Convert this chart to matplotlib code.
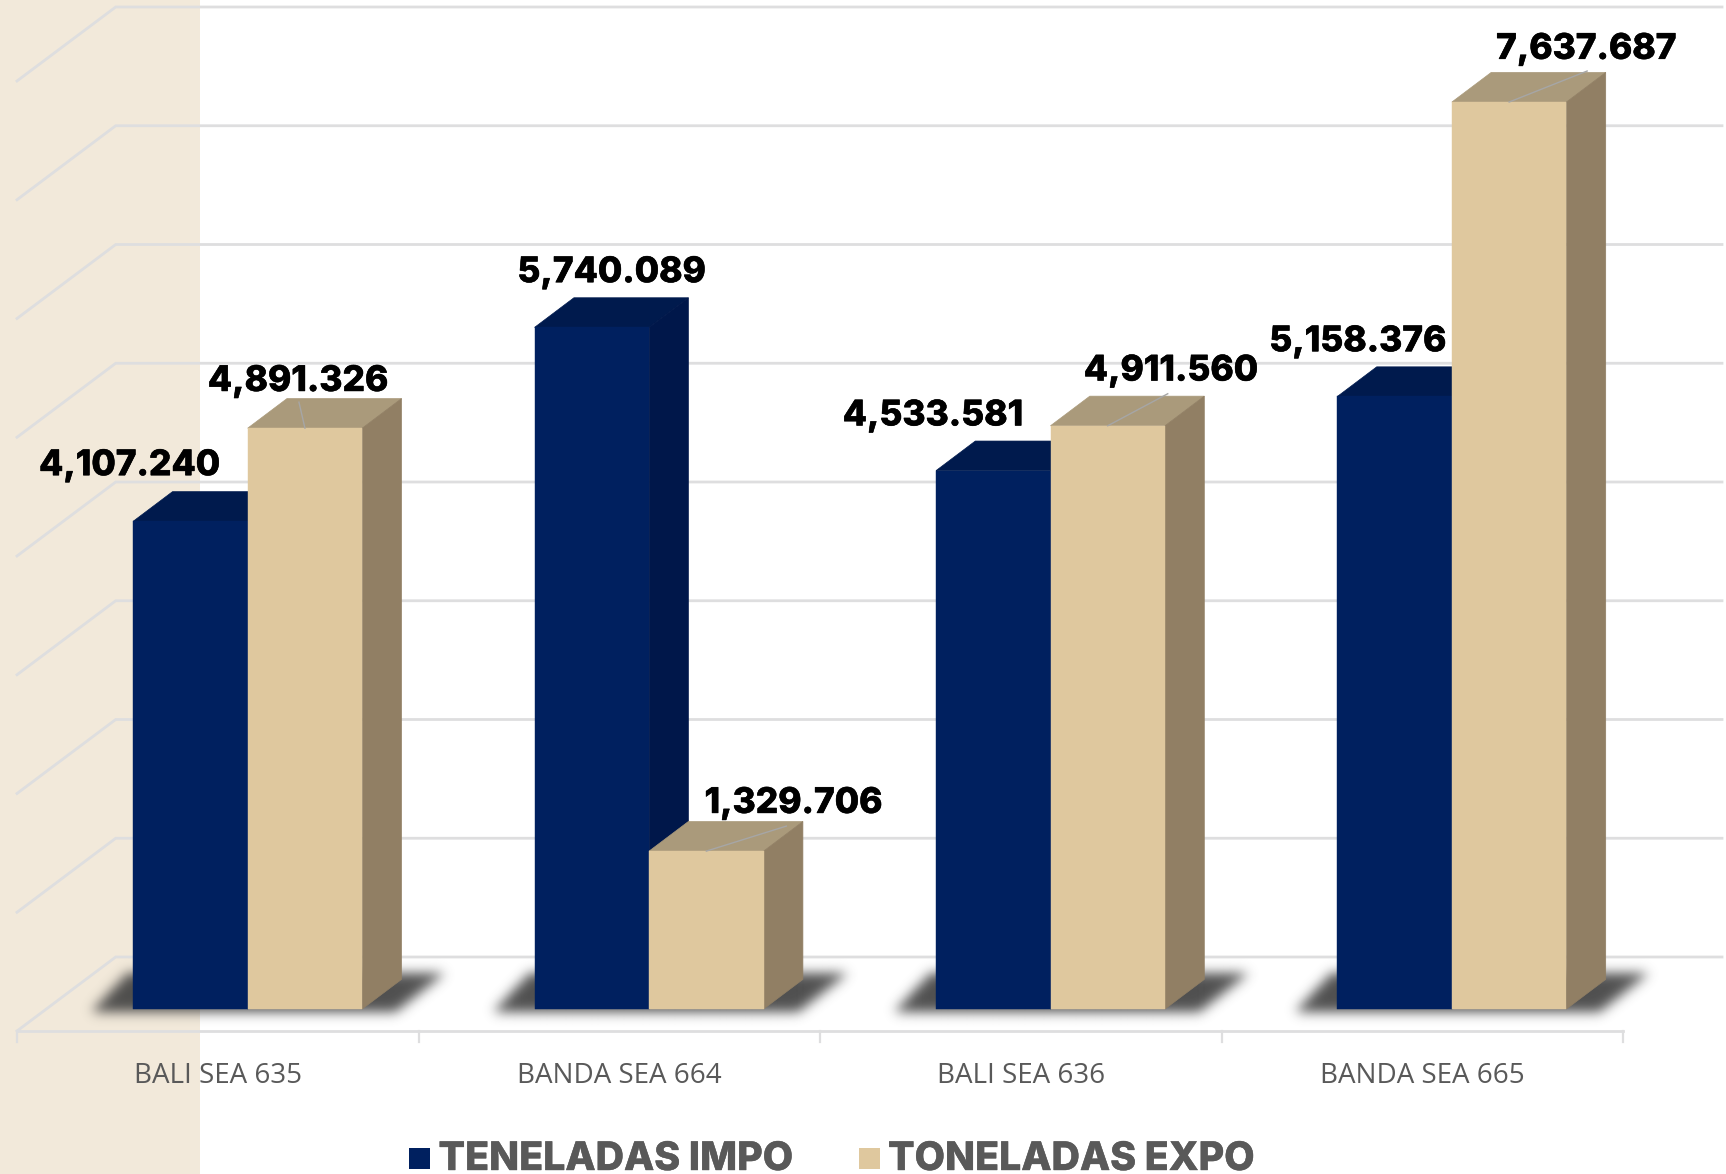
import matplotlib
matplotlib.use("Agg")
import matplotlib.pyplot as plt
import matplotlib.patheffects as pe
from matplotlib.patches import Polygon, Rectangle
from matplotlib.path import Path
import numpy as np

categories = ["BALI SEA 635", "BANDA SEA 664", "BALI SEA 636", "BANDA SEA 665"]
impo = [4107.240, 5740.089, 4533.581, 5158.376]
expo = [4891.326, 1329.706, 4911.560, 7637.687]
series_names = ["TENELADAS IMPO", "TONELADAS EXPO"]
grid_values = list(range(0, 9000, 1000))

W, H = 1726, 1174
PX_X = 401.4      # pixels per category
PX_Y = 0.11875    # pixels per value unit
X0_PX, Y0_PX = 247.7, 1009.0

fig = plt.figure(figsize=(W / 100, H / 100), dpi=100, facecolor="white")
ax = fig.add_axes([0, 0, 1, 1])
xlim = (-X0_PX / PX_X, (W - X0_PX) / PX_X)
ylim = ((Y0_PX - H) / PX_Y, Y0_PX / PX_Y)
ax.set_xlim(*xlim)
ax.set_ylim(*ylim)
ax.axis("off")

def dxp(p): return p / PX_X
def dyp(p): return p / PX_Y
def X(p): return (p - X0_PX) / PX_X
def Y(p): return (Y0_PX - p) / PX_Y

# background band
ax.add_patch(Rectangle((X(0), Y(H)), dxp(200), dyp(H), fc="#F2E9DA", ec="none", zorder=0))

# walls and gridlines
GRID = "#DEDEDF"
back_off, front_off = dyp(52), dyp(-22)
for v in grid_values:
    ax.plot([X(17), X(115.7), X(1722)], [v + front_off, v + back_off, v + back_off],
            color=GRID, lw=2.0, solid_joinstyle="miter", zorder=1)
tick_x = np.arange(len(categories) + 1) - 0.5 - 0.0735
ax.plot([tick_x[0], tick_x[-1]], [front_off, front_off], color=GRID, lw=2.0, zorder=1)
for t in tick_x:
    ax.plot([t, t], [front_off, front_off - dyp(11)], color=GRID, lw=1.6, zorder=1)

bw = 114.5 / PX_X
ddx, ddy = dxp(39.3), dyp(29.6)

# soft floor shadows: polygons rasterised on the pixel grid and blurred
def gaussian_blur(a, sigma):
    r = int(3 * sigma)
    k = np.exp(-0.5 * (np.arange(-r, r + 1) / sigma) ** 2)
    k /= k.sum()
    a = np.apply_along_axis(lambda m: np.convolve(m, k, mode="same"), 0, a)
    return np.apply_along_axis(lambda m: np.convolve(m, k, mode="same"), 1, a)

pad_l, pad_r, pad_t, pad_b = 70, 110, 60, 30
for i in range(len(categories)):
    l, r = i - bw, i + bw
    pts = np.array([(l - dxp(42), -dyp(3)), (r + dxp(34), -dyp(3)),
                    (r + dxp(83), dyp(36)), (l + dxp(-6), dyp(36))])
    nx = int(2 * bw * PX_X) + pad_l + pad_r
    ny = pad_t + pad_b
    xs = np.linspace(l - dxp(pad_l), r + dxp(pad_r), nx)
    ys = np.linspace(dyp(pad_t), -dyp(pad_b), ny)
    gx, gy = np.meshgrid(xs, ys)
    mask = Path(pts).contains_points(np.c_[gx.ravel(), gy.ravel()]).reshape(gy.shape).astype(float)
    alpha = gaussian_blur(mask, 6.0) * 0.92
    rgba = np.zeros(gy.shape + (4,))
    rgba[..., :3] = 0x40 / 255
    rgba[..., 3] = alpha
    ax.imshow(rgba, extent=(xs[0], xs[-1], ys[-1], ys[0]), aspect="auto", zorder=2,
              interpolation="bilinear")
ax.set_xlim(*xlim)
ax.set_ylim(*ylim)

def draw_bars(xs, vals, front, top, side, z):
    xs = np.asarray(xs)
    for x, v in zip(xs, vals):
        l, r = x - bw / 2, x + bw / 2
        ax.add_patch(Polygon([(l, v), (r, v), (r + ddx, v + ddy), (l + ddx, v + ddy)],
                             fc=top, ec=top, lw=0.5, zorder=z))
        ax.add_patch(Polygon([(r, 0), (r + ddx, ddy), (r + ddx, v + ddy), (r, v)],
                             fc=side, ec=side, lw=0.5, zorder=z + 0.1))
    ax.bar(xs, vals, width=bw, color=front, edgecolor=front, linewidth=0.3, zorder=z + 0.2)

xpos = np.arange(len(categories))
NAVY, BEIGE = "#00205F", "#DFC89E"
draw_bars(xpos - bw / 2, impo, NAVY, "#001A4D", "#00174A", 3)
draw_bars(xpos + bw / 2, expo, BEIGE, "#AA9A7B", "#917F64", 4)

# data labels (offset of label centre from the bar's top-front centre, in pixels)
impo_off = [(-61, 55.6), (19.5, 54.7), (-60.5, 54.7), (-37, 54.7)]
expo_off = [(-7, 46.7), (87, 47.7), (63, 54.7), (77, 52.7)]

bold = [pe.withStroke(linewidth=0.4, foreground="#000000")]
label_font = dict(family="Inter", fontweight="extra bold", fontsize=25.4, color="#000000",
                  ha="center", va="center", zorder=8, path_effects=bold)
fmt = lambda v: f"{v:,.3f}"
for i, (v, off) in enumerate(zip(impo, impo_off)):
    ax.text(i - bw / 2 + dxp(off[0]), v + dyp(off[1]), fmt(v), **label_font)
for i, (v, off) in enumerate(zip(expo, expo_off)):
    ax.text(i + bw / 2 + dxp(off[0]), v + dyp(off[1]), fmt(v), **label_font)

# leader lines (end offset from bar's top-front centre, in pixels)
leaders = {0: (-6, 26), 1: (80, 25), 2: (60, 32), 3: (78, 31)}
for i, (ex, ey) in leaders.items():
    x, v = i + bw / 2, expo[i]
    ax.plot([x, x + dxp(ex)], [v, v + dyp(ey)], color="#A6A6A6", lw=1.0, zorder=7)

# category labels
for i, c in enumerate(categories):
    ax.text(i - 0.0735, Y(1076), c, family="Open Sans", fontsize=20, color="#595959",
            ha="center", va="center", zorder=8)

# legend
legend_stroke = [pe.withStroke(linewidth=0.3, foreground="#595959")]
for px, col, name, tx in [(409, NAVY, series_names[0], 438.5), (859, BEIGE, series_names[1], 888)]:
    ax.add_patch(Rectangle((X(px), Y(1169)), dxp(21), dyp(21), fc=col, ec="none", zorder=8))
    ax.text(X(tx), Y(1170), name, family="Inter", fontweight="extra bold", fontsize=28.3,
            color="#595959", ha="left", va="baseline", zorder=8, path_effects=legend_stroke)

fig.savefig("out.png", dpi=100)
